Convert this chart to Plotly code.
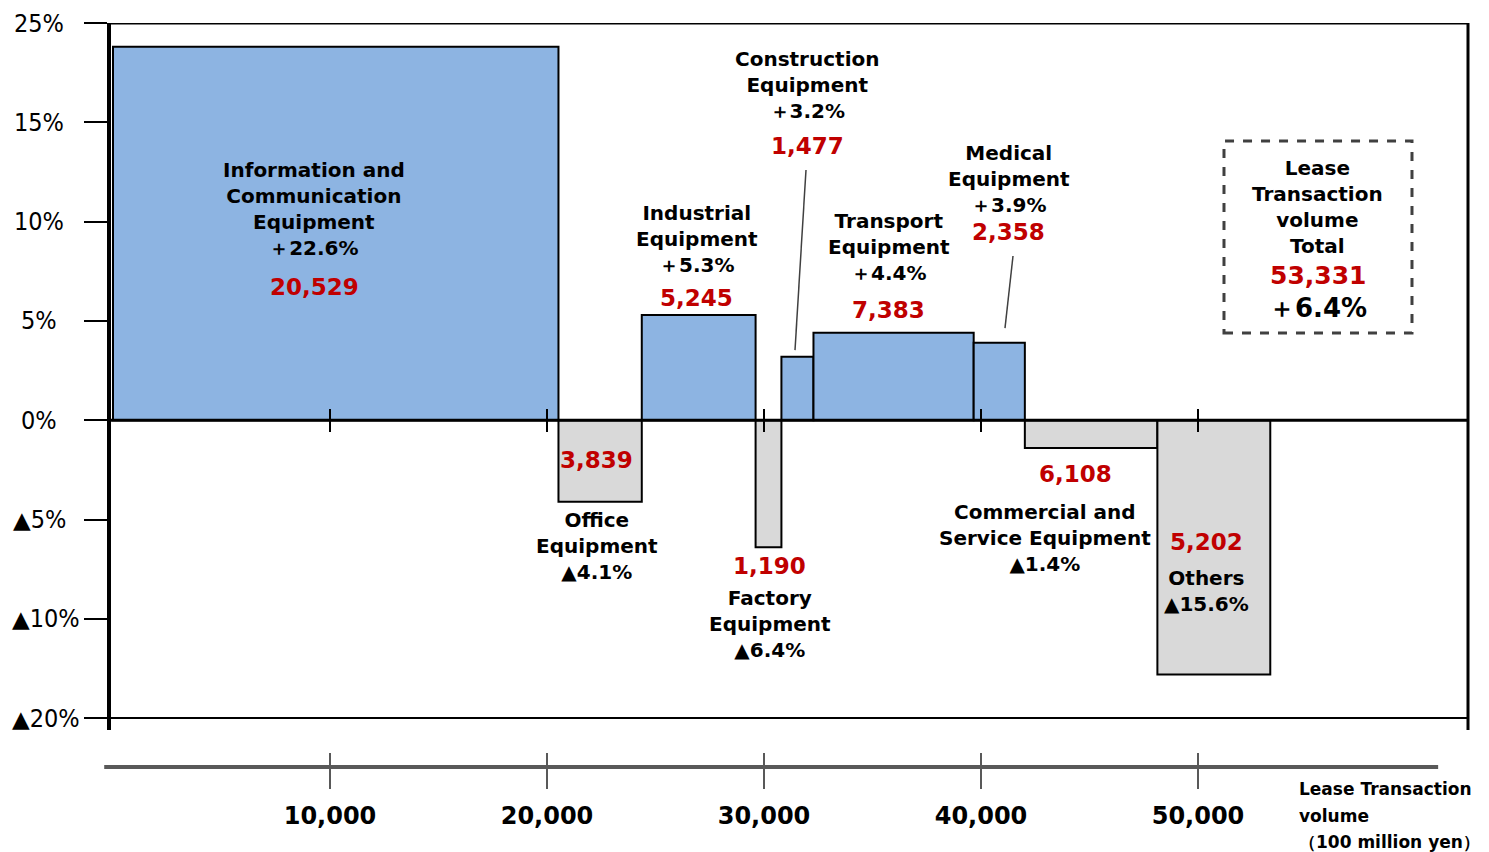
import numpy as np
import plotly.graph_objects as go

# ---------------- data ----------------
categories = ["Information and Communication Equipment", "Office Equipment",
              "Industrial Equipment", "Factory Equipment", "Construction Equipment",
              "Transport Equipment", "Medical Equipment",
              "Commercial and Service Equipment", "Others"]
label_text = ["Information and<br>Communication<br>Equipment", "Office<br>Equipment",
              "Industrial<br>Equipment", "Factory<br>Equipment", "Construction<br>Equipment",
              "Transport<br>Equipment", "Medical<br>Equipment",
              "Commercial and<br>Service Equipment", "Others"]
volumes = [20529, 3839, 5245, 1190, 1477, 7383, 2358, 6108, 5202]   # 100 million yen
growth = [22.6, -4.1, 5.3, -6.4, 3.2, 4.4, 3.9, -1.4, -15.6]        # % YoY
total_volume = 53331
total_growth = 6.4
y_tick_values = [25, 15, 10, 5, 0, -5, -10, -20]
y_tick_text = ["25%", "15%", "10%", "5%", "0%", "▲5%", "▲10%", "▲20%"]
x_tick_values = [10000, 20000, 30000, 40000, 50000]
x_tick_text = ["10,000", "20,000", "30,000", "40,000", "50,000"]

# ---------------- styling / layout ----------------
BLUE = "#8DB4E2"
GRAY = "#D9D9D9"
RED = "#C00000"
LBL = "DejaVu Sans"
NARROW = "Liberation Sans Narrow, DejaVu Sans Condensed, sans-serif"


def ty(v):
    """broken percentage axis: 15..25 and -10..-20 are compressed by half"""
    if v > 15:
        return 15 + (v - 15) / 2
    if v < -10:
        return -10 + (v + 10) / 2
    return v


def fmt_growth(g):
    return ("＋" if g >= 0 else "▲") + f"{abs(g):.1f}%"


vol = np.array(volumes, dtype=float)
starts = np.cumsum(vol) - vol
centers = starts + vol / 2
yv = [ty(g) for g in growth]
colors = [BLUE if g >= 0 else GRAY for g in growth]

X_RANGE = [-92, 62443]
Y_TOP = ty(25)
Y_RANGE = [Y_TOP - 707 / 19.86, Y_TOP]
DOM0 = 37 / 744

fig = go.Figure()
fig.add_trace(go.Bar(
    x=centers, y=yv, width=vol, base=0,
    marker=dict(color=colors, line=dict(color="black", width=2)),
    hoverinfo="skip", showlegend=False,
))
for ax in ["x2", "x3", "x4"]:
    fig.add_trace(go.Scatter(x=[None], y=[None], xaxis=ax, yaxis="y",
                             showlegend=False, hoverinfo="skip"))

zero_pos = DOM0 + (0 - Y_RANGE[0]) / (Y_RANGE[1] - Y_RANGE[0]) * (1 - DOM0)

common_x = dict(range=X_RANGE, showgrid=False, zeroline=False, showline=False,
                tickvals=x_tick_values, fixedrange=True)
fig.update_layout(
    width=1481, height=844,
    margin=dict(l=103, r=21, t=15, b=85),
    plot_bgcolor="white", paper_bgcolor="white",
    showlegend=False,
    xaxis=dict(**common_x, anchor="free", position=0, ticks="outside", ticklen=21,
               tickwidth=2, tickcolor="#595959", ticktext=x_tick_text,
               ticklabelstandoff=6,
               tickfont=dict(family=LBL, size=24, color="black", weight="bold")),
    xaxis2=dict(**common_x, overlaying="x", anchor="free", position=0, ticks="inside",
                ticklen=14, tickwidth=2, tickcolor="#595959", showticklabels=False),
    xaxis3=dict(**common_x, overlaying="x", anchor="free", position=zero_pos,
                ticks="outside", ticklen=11, tickwidth=2, tickcolor="black",
                showticklabels=False),
    xaxis4=dict(**common_x, overlaying="x", anchor="free", position=zero_pos,
                ticks="inside", ticklen=11, tickwidth=2, tickcolor="black",
                showticklabels=False),
    yaxis=dict(range=Y_RANGE, domain=[DOM0, 1], showgrid=False, zeroline=False,
               showline=True, linecolor="black", linewidth=4,
               ticks="outside", ticklen=23, tickwidth=2, tickcolor="black",
               tickvals=[ty(v) for v in y_tick_values], showticklabels=False,
               fixedrange=True),
)

# y tick labels (centered, as in the original; long ones kept inside the page)
for v, t in zip(y_tick_values, y_tick_text):
    txt = t.replace("▲", '<span style="font-family:DejaVu Sans;font-size:23px">▲</span>')
    long = len(t) >= 4 and t.startswith("▲")
    fig.add_annotation(x=(-0.0745 if long else -0.053), xref="paper", y=ty(v), yref="y",
                       text=txt, showarrow=False,
                       xanchor=("left" if long else "center"), yanchor="middle",
                       font=dict(family=NARROW, size=25, color="black"))

# frame lines
fig.add_shape(type="line", xref="paper", yref="y", x0=0, x1=1, y0=Y_TOP, y1=Y_TOP,
              line=dict(color="black", width=3))
fig.add_shape(type="line", xref="paper", yref="y", x0=1, x1=1, y0=Y_RANGE[0], y1=Y_TOP,
              line=dict(color="black", width=3))
fig.add_shape(type="line", xref="paper", yref="y", x0=0, x1=1, y0=ty(-20), y1=ty(-20),
              line=dict(color="black", width=2))
fig.add_shape(type="line", xref="paper", yref="y", x0=0, x1=1, y0=0, y1=0,
              line=dict(color="black", width=3))
# bottom volume axis line
fig.add_shape(type="line", xref="paper", yref="paper", x0=-0.005, x1=0.978, y0=0, y1=0,
              line=dict(color="#595959", width=4))

# category labels: (x of text, y of text block, x of number, y of number)
label_pos = [
    (9263, 10.61, 9263, 6.71),
    (22304, -6.33, 22304, -2.01),
    (26912, 9.10, 26912, 6.16),
    (30276, -10.26, 30276, -7.34),
    (31982, 16.90, 31982, 13.81),
    (35760, 8.72, 35760, 5.55),
    (41290, 12.17, 41290, 9.48),
    (42949, -5.93, 44378, -2.71),
    (50415, -8.58, 50369, -6.13),
]
for i, (tx, tyy, nx, ny) in enumerate(label_pos):
    fig.add_annotation(x=tx, y=tyy, xref="x", yref="y",
                       text=f"{label_text[i]}<br>{fmt_growth(growth[i])}",
                       showarrow=False, xanchor="center", yanchor="middle", align="center",
                       font=dict(family=LBL, size=20, color="black", weight="bold"))
    fig.add_annotation(x=nx, y=ny, xref="x", yref="y", text=f"{volumes[i]:,}",
                       showarrow=False, xanchor="center", yanchor="middle",
                       font=dict(family=LBL, size=23, color=RED, weight="bold"))

# leader lines for small bars
fig.add_shape(type="line", xref="x", yref="y", x0=31935, y0=12.6, x1=31429, y1=3.53,
              line=dict(color="#404040", width=1.5))
fig.add_shape(type="line", xref="x", yref="y", x0=41475, y0=8.27, x1=41106, y1=4.64,
              line=dict(color="#404040", width=1.5))

# total box
fig.add_shape(type="rect", xref="x", yref="y", x0=51198, x1=59862, y0=4.39, y1=14.06,
              line=dict(color="#404040", width=3, dash="dash"), fillcolor="rgba(0,0,0,0)")
fig.add_annotation(x=55530, y=10.73, xref="x", yref="y",
                   text="Lease<br>Transaction<br>volume<br>Total", showarrow=False,
                   xanchor="center", yanchor="middle",
                   font=dict(family=LBL, size=20, color="black", weight="bold"))
fig.add_annotation(x=55530, y=7.31, xref="x", yref="y", text=f"{total_volume:,}",
                   showarrow=False, xanchor="center", yanchor="middle",
                   font=dict(family=LBL, size=25, color=RED, weight="bold"))
fig.add_annotation(x=55530, y=5.65, xref="x", yref="y", text=fmt_growth(total_growth),
                   showarrow=False, xanchor="center", yanchor="middle",
                   font=dict(family=LBL, size=26, color="black", weight="bold"))

# x axis title (bottom right)
for t, yy in [("Lease Transaction", -0.0296), ("volume", -0.066), ("（100 million yen）", -0.101)]:
    fig.add_annotation(x=0.874, y=yy, xref="paper", yref="paper", text=t, showarrow=False,
                       xanchor="left", yanchor="middle",
                       font=dict(family=LBL, size=17, color="black", weight="bold"))

fig.write_html("out.html")
